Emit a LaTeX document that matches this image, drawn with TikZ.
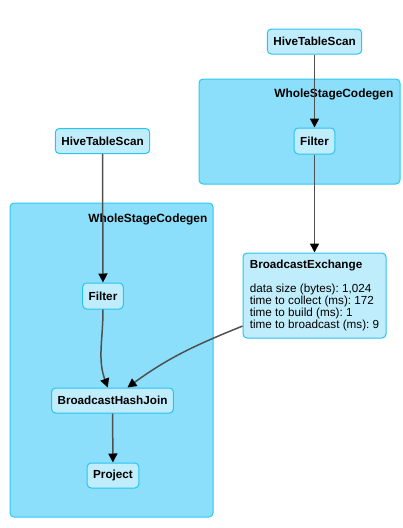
\documentclass[tikz,border=0pt]{standalone}
\usepackage{fontspec}
\setmainfont{Liberation Sans}
\usetikzlibrary{arrows.meta}
\definecolor{clusterfill}{RGB}{140,223,250}
\definecolor{clusterline}{RGB}{45,200,240}
\definecolor{opfill}{RGB}{192,237,252}
\definecolor{opline}{RGB}{40,196,242}
\definecolor{edgegray}{RGB}{80,80,80}
\frenchspacing

\begin{document}
\begin{tikzpicture}[x=1pt, y=1pt,
		cluster/.style={draw=clusterline, fill=clusterfill, line width=1pt, rounded corners=4pt},
		op/.style={draw=opline, fill=opfill, line width=1pt, rounded corners=4pt, inner xsep=6pt, minimum height=25pt, font=\fontsize{11.7}{12}\selectfont\bfseries},
		clusterlabel/.style={anchor=base east, inner sep=0pt, font=\fontsize{11.9}{12}\selectfont\bfseries},
		flow/.style={-{Triangle[length=9pt, width=9pt, fill=black, color=black]}, every edge/.style={draw=edgegray, line width=1.5pt}}]
			\useasboundingbox (0,0) rectangle (403,-528);
			% clusters
			\node[cluster, minimum width=201pt, minimum height=105pt] (wscR) at (299.5,-131.5) {};
			\node[clusterlabel] (wscRlabel) at ([shift={(-7pt,-19pt)}]wscR.north east) {WholeStageCodegen};
			\node[cluster, minimum width=203pt, minimum height=314pt] (wscL) at (111.5,-360) {};
			\node[clusterlabel] (wscLlabel) at ([shift={(-6pt,-20pt)}]wscL.north east) {WholeStageCodegen};
			% operators
			\node[op] (scanR) at (314.5,-41.5) {HiveTableScan};
			\node[op, minimum height=26pt] (filterR) at (314.5,-141) {Filter};
			\node[op] (scanL) at (102.5,-141) {HiveTableScan};
			\node[op, minimum height=26pt] (filterL) at (103,-296) {Filter};
			\node[op, minimum width=143pt, minimum height=85pt, align=left, font=\fontsize{11.7}{11.8}\selectfont] (bex) at (314.5,-295.5)
				{\textbf{BroadcastExchange}\\[12pt]
				data size (bytes): 1,024\\
				time to collect (ms): 172\\
				time to build (ms): 1\\
				time to broadcast (ms): 9};
			\node[op] (bhj) at (112.5,-400.5) {BroadcastHashJoin};
			\node[op] (project) at (113,-475.5) {Project};
			% edges
			\path[flow]
			(scanR) edge (filterR)
			(filterR) edge (bex)
			(scanL) edge (filterL)
			(filterL.south) edge[out=-90, in=110] (bhj.110)
			(bex.203) edge[out=202, in=36] (bhj.41)
			(bhj) edge (project);
		\end{tikzpicture}
\end{document}
